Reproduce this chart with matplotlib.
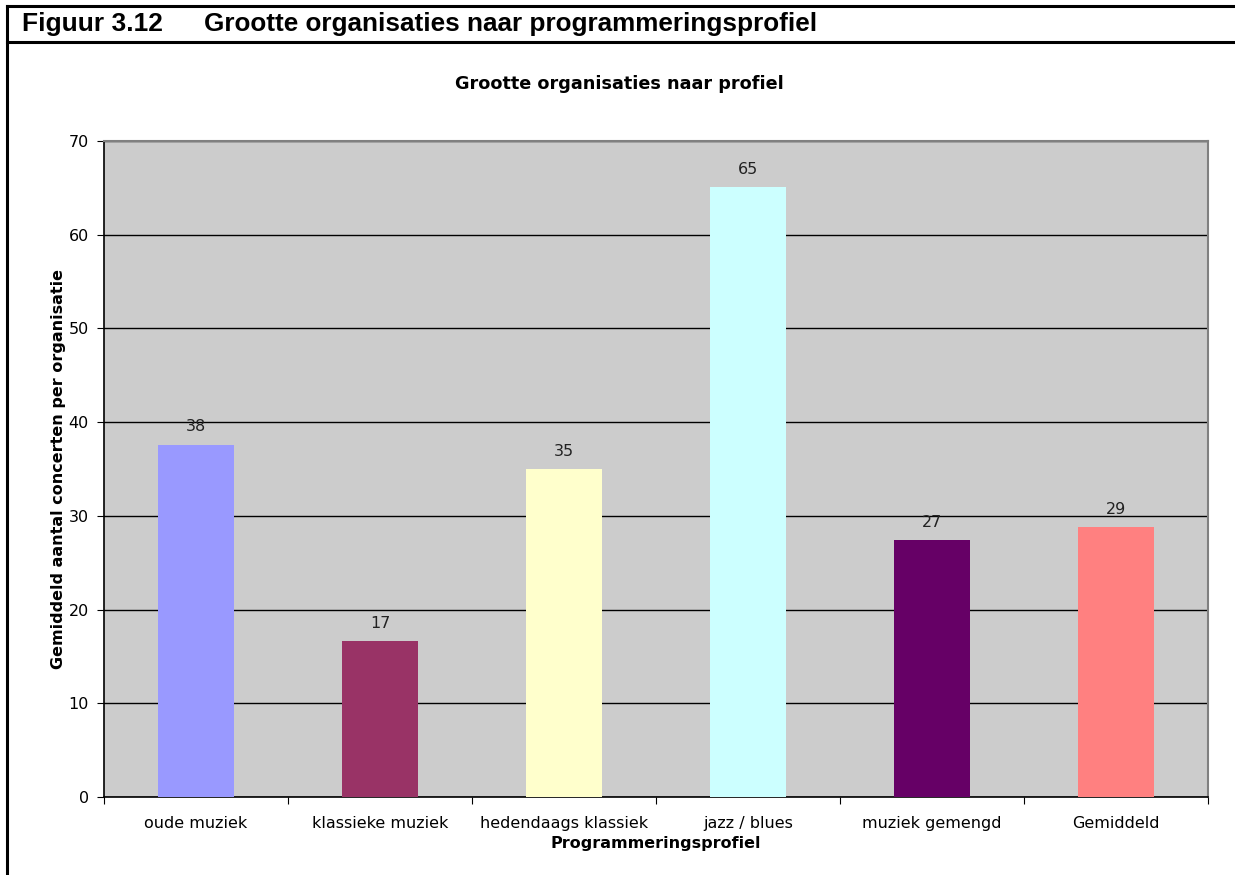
import matplotlib.pyplot as plt
from matplotlib.lines import Line2D

profielen = ['oude muziek', 'klassieke muziek', 'hedendaags klassiek',
             'jazz / blues', 'muziek gemengd', 'Gemiddeld']
concerten = [37.6, 16.6, 35.0, 65.1, 27.4, 28.8]
kleuren = ['#9999FF', '#993366', '#FFFFCC', '#CCFFFF', '#660066', '#FF8080']
y_ticks = [0, 10, 20, 30, 40, 50, 60, 70]

fig = plt.figure(figsize=(12.35, 8.75), dpi=100)
W, H = 1235, 875

# kader en kop
fig.add_artist(Line2D([7 / W, 1], [1 - 6 / H, 1 - 6 / H], color='black', lw=2.2))
fig.add_artist(Line2D([7 / W, 1], [1 - 42 / H, 1 - 42 / H], color='black', lw=2.2))
fig.add_artist(Line2D([7 / W, 7 / W], [1 - 6 / H, 0], color='black', lw=2.2))
fig.text(22 / W, 1 - 24 / H, 'Figuur 3.12', family='Liberation Sans',
         weight='bold', fontsize=19, va='center')
fig.text(204 / W, 1 - 24 / H, 'Grootte organisaties naar programmeringsprofiel',
         family='Liberation Sans', weight='bold', fontsize=18.8, va='center')
fig.text(619 / W, 1 - 84 / H, 'Grootte organisaties naar profiel',
         fontsize=12.7, weight='bold', ha='center', va='center')

ax = fig.add_axes([104 / W, 1 - 797 / H, (1208 - 104) / W, (797 - 141) / H])
ax.set_facecolor('#CCCCCC')
x = range(len(profielen))
bars = ax.bar(x, concerten, width=0.41, color=kleuren, zorder=3)
for b, v in zip(bars, concerten):
    ax.text(b.get_x() + b.get_width() / 2, v + 1.1, f'{v:.0f}',
            ha='center', va='bottom', fontsize=11.5, color='#222222', zorder=4)

ax.set_xlim(-0.5, len(profielen) - 0.5)
ax.set_ylim(0, 70)
ax.set_yticks(y_ticks)
ax.yaxis.grid(True, color='black', lw=1)
ax.set_axisbelow(True)
ax.set_xticks([i + 0.5 for i in range(-1, len(profielen))])
ax.set_xticklabels([])
ax.set_xticks(list(x), minor=True)
ax.set_xticklabels(profielen, minor=True, fontsize=11.5)
ax.tick_params(axis='x', which='minor', length=0, pad=14)
ax.tick_params(axis='x', which='major', length=5, direction='out')
ax.tick_params(axis='y', length=5, labelsize=11.5, pad=6)

for s in ['top', 'right']:
    ax.spines[s].set_color('#808080')
    ax.spines[s].set_linewidth(1.5)
for s in ['left', 'bottom']:
    ax.spines[s].set_color('black')
    ax.spines[s].set_linewidth(1.2)

ax.set_xlabel('Programmeringsprofiel', fontsize=11.5, weight='bold', labelpad=3)
ax.set_ylabel('Gemiddeld aantal concerten per organisatie', fontsize=11.5,
              weight='bold', labelpad=2)

plt.savefig('out.png', dpi=100)
